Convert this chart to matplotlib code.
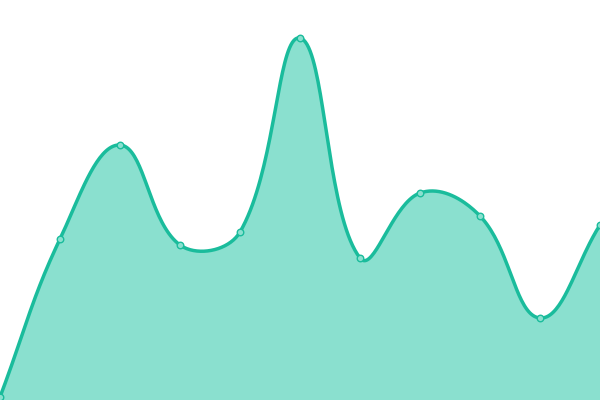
import numpy as np
import matplotlib
matplotlib.use("Agg")
import matplotlib.pyplot as plt

# values (0 at bottom edge, 400 at top edge)
x_vals = [0, 60, 120, 180, 240, 300, 360, 420, 480, 540, 600]
y_vals = [3, 161, 255, 155, 168, 362, 142, 207, 184, 82, 175]

line_color = "#1abc9c"
fill_color = "#8ae0cf"
tension = 0.4


def spline_path(xs, ys, t=0.4, steps=40):
    # bezier control points, chart.js style
    pts = np.column_stack([xs, ys]).astype(float)
    n = len(pts)
    cps = []
    for i in range(n):
        prev = pts[max(i - 1, 0)]
        cur = pts[i]
        nxt = pts[min(i + 1, n - 1)]
        d01 = np.hypot(*(cur - prev))
        d12 = np.hypot(*(nxt - cur))
        tot = d01 + d12
        s01 = d01 / tot if tot else 0
        s12 = d12 / tot if tot else 0
        c1 = cur - t * s01 * (nxt - prev)
        c2 = cur + t * s12 * (nxt - prev)
        cps.append((c1, c2))
    out = [pts[0]]
    u = np.linspace(0, 1, steps)[1:, None]
    for i in range(n - 1):
        p0 = pts[i]
        p1 = cps[i][1]
        p2 = cps[i + 1][0]
        p3 = pts[i + 1]
        seg = ((1 - u) ** 3) * p0 + 3 * ((1 - u) ** 2) * u * p1 \
            + 3 * (1 - u) * u ** 2 * p2 + u ** 3 * p3
        out.extend(seg)
    out = np.array(out)
    return out[:, 0], out[:, 1]


fig = plt.figure(figsize=(6, 4), dpi=100)
ax = fig.add_axes([0, 0, 1, 1])

cx, cy = spline_path(x_vals, y_vals, tension)
ax.fill_between(cx, cy, 0, color=fill_color, linewidth=0)
ax.plot(cx, cy, color=line_color, linewidth=2.5, solid_capstyle="round")
ax.scatter(x_vals, y_vals, s=22, facecolor=fill_color, edgecolor=line_color,
           linewidth=1, zorder=3)

ax.set_xlim(0, 600)
ax.set_ylim(0, 400)
ax.axis("off")

fig.savefig("out.png", dpi=100)
